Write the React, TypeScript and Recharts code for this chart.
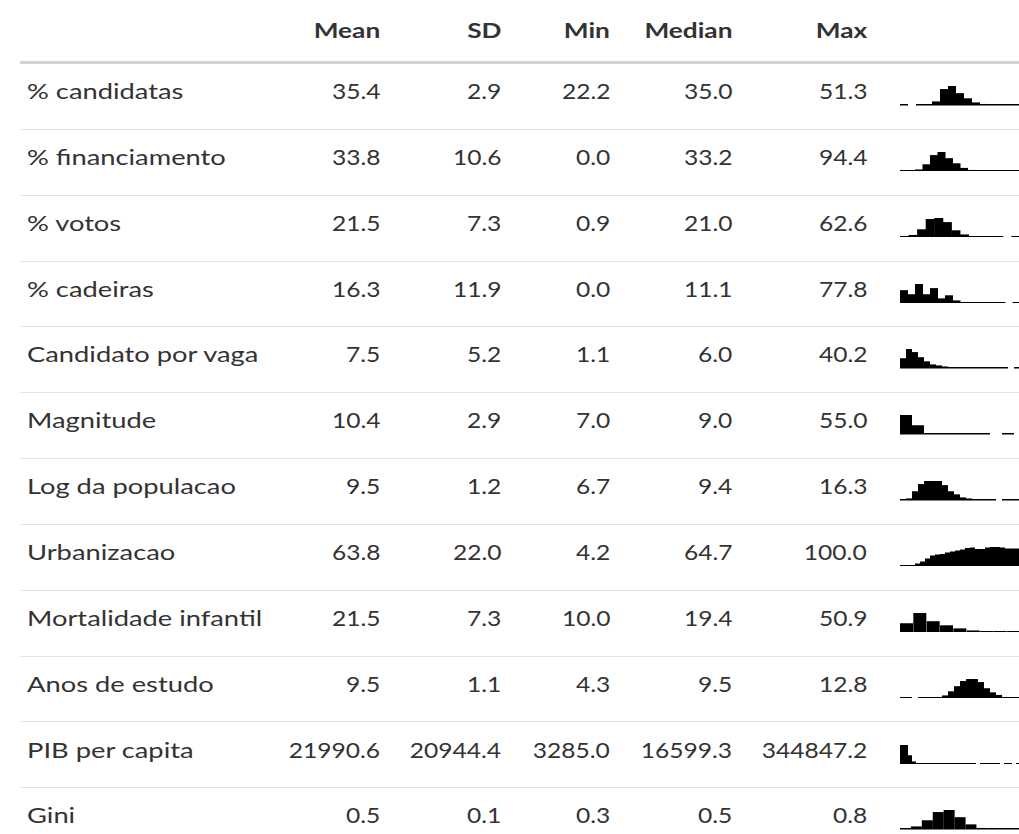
import React from 'react'
import {BarChart, Bar, XAxis, YAxis} from 'recharts'

const variables = [
  '% candidatas', '% financiamento', '% votos', '% cadeiras', 'Candidato por vaga', 'Magnitude',
  'Log da populacao', 'Urbanizacao', 'Mortalidade infantil', 'Anos de estudo', 'PIB per capita', 'Gini'
]
const columns = ['Mean', 'SD', 'Min', 'Median', 'Max']
const means = [35.4, 33.8, 21.5, 16.3, 7.5, 10.4, 9.5, 63.8, 21.5, 9.5, 21990.6, 0.5]
const sds = [2.9, 10.6, 7.3, 11.9, 5.2, 2.9, 1.2, 22.0, 7.3, 1.1, 20944.4, 0.1]
const mins = [22.2, 0.0, 0.9, 0.0, 1.1, 7.0, 6.7, 4.2, 10.0, 4.3, 3285.0, 0.3]
const medians = [35.0, 33.2, 21.0, 11.1, 6.0, 9.0, 9.4, 64.7, 19.4, 9.5, 16599.3, 0.5]
const maxs = [51.3, 94.4, 62.6, 77.8, 40.2, 55.0, 16.3, 100.0, 50.9, 12.8, 344847.2, 0.8]

// histogram bin heights (relative)
const histCandidatas = [0.6, 0, 0.6, 1, 4, 16, 19, 12, 7, 3, 1.5, 0.6, 0.5, 0.5, 0.5]
const histFinanciamento = [0.5, 0.5, 2, 7, 16, 19, 13, 8, 3.5, 1.5, 1, 0.5, 0.5, 0.5, 0.5, 0.5]
const histVotos = [0.5, 2.5, 8, 18, 19, 15, 7, 3, 1, 0.5, 0.5, 0.5, 0, 0.5]
const histCadeiras = [13, 9, 19, 9, 15, 5, 8, 3, 1, 0.6, 0.5, 0.5, 0.5, 0.5, 0, 0.5]
const histCandVaga = [10, 19, 16, 11, 7, 4, 3, 2, 1, 0.6, 0.5, 0.5, 0.5, 0.5, 0.5, 0.5, 0.5, 0.3, 0, 0.3]
const histMagnitude = [19, 19, 9, 9, 1, 0.8, 0.8, 0.8, 0.5, 0.5, 0.5, 0.5, 0.5, 0.5, 0.5, 0, 0, 0.5, 0.5, 0]
const histPopulacao = [0.7, 2, 9, 16, 19, 19, 19, 15, 9, 6, 3, 2, 1, 0.6, 0.5, 0.5, 0, 0.4, 0.4, 0.4]
const histUrbanizacao = [0.5, 1, 1.5, 3, 5, 8, 11, 12, 12.5, 14, 15, 16, 17, 18.5, 19, 17.5, 17.5, 19, 19.5, 19.5, 19, 18, 18, 18]
const histMortalidade = [9, 19, 11, 7, 4, 2, 1, 0.5, 0.5]
const histEstudo = [0.5, 0.5, 0, 0.5, 0.6, 1, 1.5, 3, 7, 12, 17, 19, 19, 16, 10, 6, 3.5, 1.5, 0.6, 0.5]
const histPib = [19, 19, 9, 3, 1, 0.8, 0.5, 0.5, 0.5, 0.5, 0.5, 0.5, 0.5, 0.5, 0.5, 0.5, 0.5, 0.5, 0.5, 0, 0.5, 0.5, 0.5, 0.5, 0.5, 0, 0.5, 0.5, 0, 0.5]
const histGini = [0.6, 3, 9, 17, 19, 12, 5, 1.5, 0.8, 0.5, 0.5]

const hists = [
  histCandidatas, histFinanciamento, histVotos, histCadeiras, histCandVaga, histMagnitude,
  histPopulacao, histUrbanizacao, histMortalidade, histEstudo, histPib, histGini
]

const FONT = 'Lato, sans-serif'
const TEXT = '#333333'
const ROW_TOP = 64
const ROW_H = 65.85
// right edges of the numeric columns
const colRight = [380, 501, 610, 732, 867]

const HistBar = (props: any) => {
  const {x, y, width, height, payload} = props
  if (!payload || !payload.v) return null
  const h = Math.max(height || 0, 1.5)
  const base = y + (height || 0)
  return <rect x={x} y={base - h} width={width} height={h} fill="#000" />
}

const Spark = ({values}: {values: number[]}) => {
  const data = values.map((v, i) => ({i, v}))
  return (
    <BarChart width={120} height={19.5} data={data} margin={{top: 0, right: 0, bottom: 0, left: 0}} barCategoryGap={0} barGap={0}>
      <XAxis dataKey="i" hide />
      <YAxis hide domain={[0, 'dataMax']} />
      <Bar dataKey="v" isAnimationActive={false} shape={<HistBar />} />
    </BarChart>
  )
}

// source font is wider than Lato, so stretch horizontally
const Stretch = ({k, origin, children}: {k: number, origin: string, children: any}) => (
  <span style={{display: 'inline-block', transform: `scaleX(${k})`, transformOrigin: `${origin} center`}}>{children}</span>
)

export default function App() {
  const stats = [means, sds, mins, medians, maxs]
  return (
    <div style={{position: 'relative', width: 1019, height: 834, overflow: 'hidden', background: '#fff', fontFamily: FONT, color: TEXT}}>
      <style>{'body{margin:0;overflow:hidden}'}</style>
      {columns.map((c, j) => (
        <div key={c} style={{position: 'absolute', top: 14, left: colRight[j] - 150, width: 150, textAlign: 'right', fontSize: 21, fontWeight: 700, lineHeight: '32px'}}>
          <Stretch k={1.25} origin="right">{c}</Stretch>
        </div>
      ))}
      <div style={{position: 'absolute', top: 61, left: 20, width: 1010, height: 3, background: '#d3d3d3'}} />
      {variables.map((name, i) => {
        const top = ROW_TOP + i * ROW_H
        return (
          <div key={name} style={{position: 'absolute', top, left: 0, width: 1030, height: ROW_H}}>
            <div style={{position: 'absolute', left: 27, top: 0, height: 54, lineHeight: '54px', fontSize: 21, whiteSpace: 'nowrap'}}>
              <Stretch k={1.3} origin="left">{name}</Stretch>
            </div>
            {stats.map((s, j) => (
              <div key={j} style={{position: 'absolute', left: colRight[j] - 150, width: 150, top: 0, height: 54, lineHeight: '54px', fontSize: 21, textAlign: 'right', whiteSpace: 'nowrap'}}>
                <Stretch k={1.17} origin="right">{s[i].toFixed(1)}</Stretch>
              </div>
            ))}
            <div style={{position: 'absolute', left: 900, top: 22}}>
              <Spark values={hists[i]} />
            </div>
            <div style={{position: 'absolute', left: 20, top: ROW_H - 1, width: 1010, height: 1, background: '#e3e3e3'}} />
          </div>
        )
      })}
    </div>
  )
}
